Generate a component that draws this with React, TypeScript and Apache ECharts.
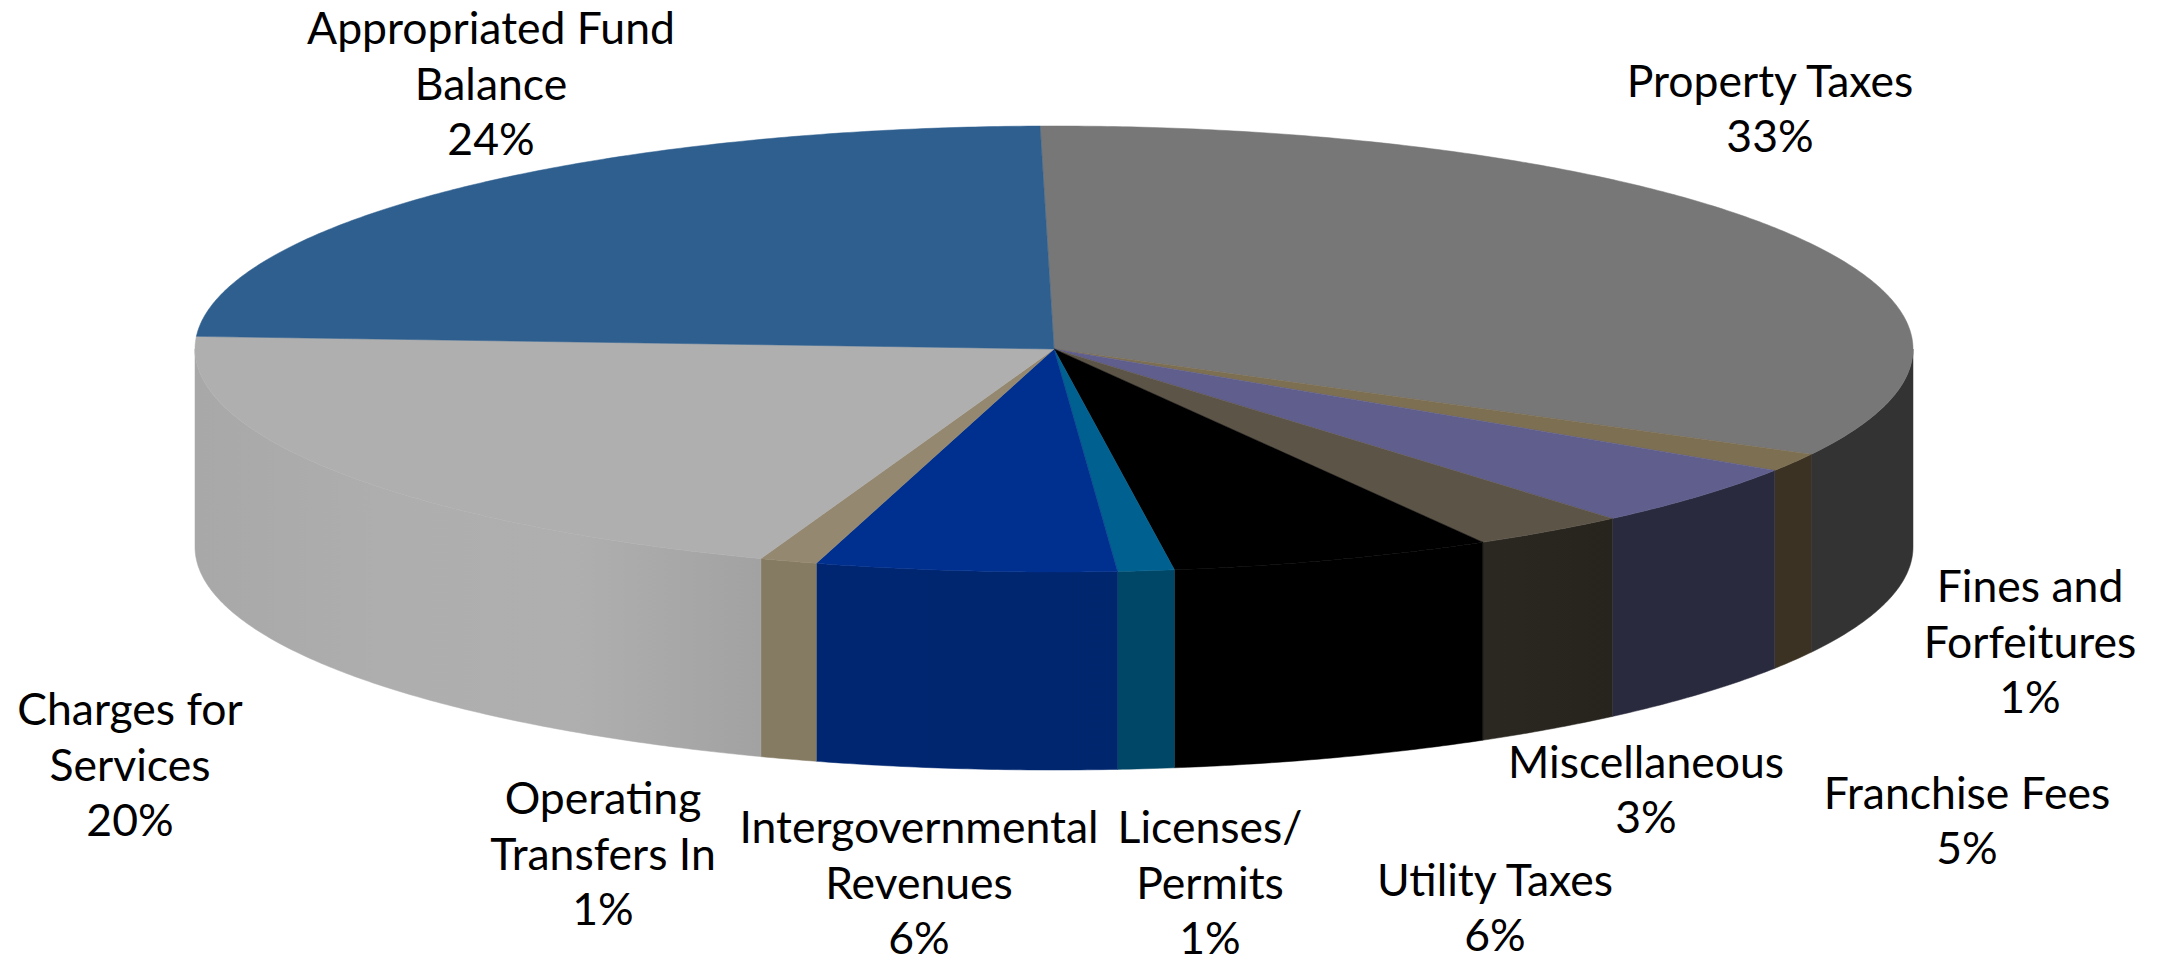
import React, { useEffect, useRef } from "react";
import * as echarts from "echarts";

// Slice order runs clockwise from the top of the pie.
const CATEGORIES = [
  "Property Taxes",
  "Fines and\nForfeitures",
  "Franchise Fees",
  "Miscellaneous",
  "Utility Taxes",
  "Licenses/\nPermits",
  "Intergovernmental\nRevenues",
  "Operating\nTransfers In",
  "Charges for\nServices",
  "Appropriated Fund\nBalance",
];
const VALUES = [33.09, 1.33, 4.58, 2.94, 6.08, 1.06, 5.64, 1.08, 20.36, 23.84];

const TOP_COLORS = ["#777777", "#7D6F52", "#5F5E8D", "#5D5448", "#000000", "#00608F", "#00308F", "#958870", "#AFAFAF", "#2F5F8E"];
const SIDE_COLORS = [
  ["#333333", "#333333"],
  ["#3B3223", "#3B3223"],
  ["#2A2A3F", "#2A2A3F"],
  ["#2B2821", "#27241E"],
  ["#000000", "#000000"],
  ["#004666", "#004666"],
  ["#002672", "#00266E"],
  ["#857A62", "#857A62"],
  ["#A8A8A8", "#AEAEAE", "#AFAFAF", "#A2A2A2"],
  ["#2F5F8E", "#2F5F8E"],
];

// Layout of the pie and its labels (pixels on the 2169x963 page).
const CX = 1054;
const CY = 349;
const RX = 859;
const RY = 223;
const DEPTH = 198;
const START_DEG = -0.93;
const LABEL_CENTERS: [number, number][] = [
  [1770, 107],
  [2030, 640],
  [1967, 819],
  [1646, 788],
  [1495, 906],
  [1210, 881],
  [919, 881],
  [603, 852],
  [130, 763],
  [491, 82],
];
const FONT_FAMILY = "Lato";
const FONT_SIZE = 44.5;
const LINE_HEIGHT = 55.5;

const TOTAL = VALUES.reduce((a, b) => a + b, 0);
const rad = (d: number) => (d * Math.PI) / 180;
const rim = (d: number, dy = 0): [number, number] => [CX + RX * Math.sin(rad(d)), CY - RY * Math.cos(rad(d)) + dy];

function arcDegrees(a: number, b: number): number[] {
  const out: number[] = [];
  for (let d = a; d < b; d += 0.5) out.push(d);
  out.push(b);
  return out;
}

function renderItem(params: any, api: any) {
  const i = params.dataIndex;
  const before = VALUES.slice(0, i).reduce((a, b) => a + b, 0);
  const a = START_DEG + (before / TOTAL) * 360;
  const b = a + (api.value(0) / TOTAL) * 360;

  const children: any[] = [];

  // Front wall: only the part of the arc in the lower half of the ellipse shows.
  const sa = Math.max(a, 90);
  const sb = Math.min(b, 270);
  if (sb > sa) {
    const degs = arcDegrees(sa, sb);
    const pts = [...degs.map((d) => rim(d)), ...degs.slice().reverse().map((d) => rim(d, DEPTH))];
    const stops = SIDE_COLORS[i];
    const grad = new echarts.graphic.LinearGradient(
      0, 0, 1, 0,
      stops.map((color, k) => ({ offset: k / (stops.length - 1), color }))
    );
    children.push({
      type: "polygon",
      shape: { points: pts },
      style: { fill: grad, stroke: grad, lineWidth: 0.5 },
    });
  }

  // Top face.
  const top = [[CX, CY], ...arcDegrees(a, b).map((d) => rim(d))];
  children.push({
    type: "polygon",
    shape: { points: top },
    style: { fill: TOP_COLORS[i], stroke: TOP_COLORS[i], lineWidth: 0.5 },
  });

  return { type: "group", children };
}

export default function App() {
  const ref = useRef<HTMLDivElement>(null);
  useEffect(() => {
    document.body.style.margin = "0";
    const chart = echarts.init(ref.current!, undefined, { renderer: "svg" });
    chart.setOption({
      animation: false,
      backgroundColor: "#ffffff",
      series: [
        {
          type: "custom",
          coordinateSystem: "none",
          silent: true,
          renderItem,
          data: VALUES.map((v) => [v]),
        },
      ],
      graphic: {
        elements: CATEGORIES.map((name, i) => ({
          type: "text",
          x: LABEL_CENTERS[i][0],
          y: LABEL_CENTERS[i][1],
          silent: true,
          style: {
            text: `${name}\n${Math.round(VALUES[i])}%`,
            fontFamily: FONT_FAMILY,
            fontSize: FONT_SIZE,
            lineHeight: LINE_HEIGHT,
            fill: "#000000",
            textAlign: "center",
            textVerticalAlign: "middle",
          },
        })),
      },
    });
    return () => chart.dispose();
  }, []);
  return <div ref={ref} style={{ position: "absolute", left: 0, top: 0, width: 2169, height: 963 }} />;
}
